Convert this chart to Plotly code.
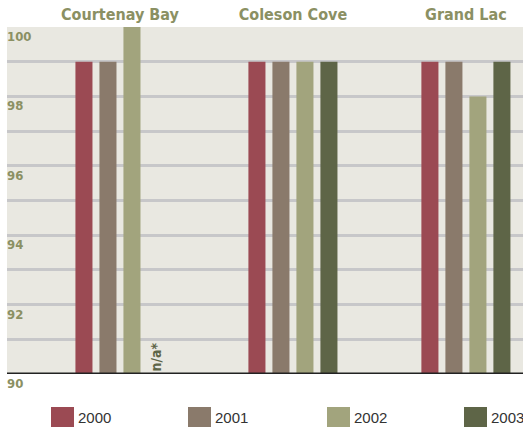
import plotly.graph_objects as go

# Plant names, reporting years and percentages
sites = ["Courtenay Bay", "Coleson Cove", "Grand Lac"]
years = ["2000", "2001", "2002", "2003"]
values_2000 = [99, 99, 99]
values_2001 = [99, 99, 99]
values_2002 = [100, 99, 98]
values_2003 = [None, 99, 99]
y_tick_values = [100, 98, 96, 94, 92, 90]
missing_note = "n/a*"

series = [values_2000, values_2001, values_2002, values_2003]
colors = ["#9b4a53", "#8a7a6b", "#a2a47d", "#5e6547"]

narrow = "DejaVu Sans Condensed, Liberation Sans Narrow, Arial Narrow, sans-serif"
olive = "#8b9063"

fig = go.Figure()
for name, vals, col in zip(years, series, colors):
    fig.add_trace(go.Bar(x=sites, y=vals, name=name, marker_color=col,
                         marker_line_width=0, showlegend=False))

fig.update_layout(
    width=523, height=427,
    margin=dict(l=7, r=0, t=27, b=53),
    paper_bgcolor="white",
    plot_bgcolor="#e9e8e1",
    barmode="group",
    bargap=0.445,
    bargroupgap=0.29,
    showlegend=False,
    xaxis=dict(
        type="category",
        range=[-0.653, 2.33],
        side="top",
        showgrid=False,
        zeroline=False,
        showline=False,
        ticks="",
        tickfont=dict(family=narrow, size=16, color=olive, weight="bold"),
        ticklabelstandoff=3,
    ),
    yaxis=dict(
        range=[90, 100],
        dtick=1,
        showticklabels=False,
        showgrid=True,
        gridcolor="#c7c7c9",
        gridwidth=2.5,
        zeroline=False,
        ticks="",
        showline=False,
    ),
)

# Bold labels for the value scale, sitting just under each gridline
for v in y_tick_values:
    fig.add_annotation(x=0, xref="paper", y=v, yref="y", text=str(v),
                       showarrow=False, xanchor="left", yanchor="top",
                       xshift=-2, yshift=0,
                       font=dict(family=narrow, size=13, color=olive, weight="bold"))

# Baseline
fig.add_shape(type="line", xref="paper", yref="y", x0=0, x1=1, y0=90, y1=90,
              line=dict(color="#222222", width=3))

# Note for the missing 2003 Courtenay Bay value
fig.add_annotation(x=sites[0], y=90, xref="x", yref="y", text=missing_note,
                   textangle=-90, showarrow=False, xanchor="center", yanchor="bottom",
                   xshift=36, yshift=1,
                   font=dict(family=narrow, size=14, color="#5e6547", weight="bold"))

# Legend swatches along the bottom
legend_x = [51, 188, 327, 464]
for name, col, px in zip(years, colors, legend_x):
    fig.add_shape(type="rect", xref="paper", yref="paper",
                  x0=(px - 7) / 516, x1=(px + 16) / 516,
                  y0=-(427 - 374) / 347, y1=-(407 - 374) / 347,
                  line_width=0, fillcolor=col)
    fig.add_annotation(xref="paper", yref="paper", x=(px + 18) / 516, y=-(417 - 374) / 347,
                       text=name, showarrow=False, xanchor="left", yanchor="middle",
                       font=dict(family="Liberation Sans, Arial, sans-serif", size=15, color="#333333"))

fig.write_html("out.html")
